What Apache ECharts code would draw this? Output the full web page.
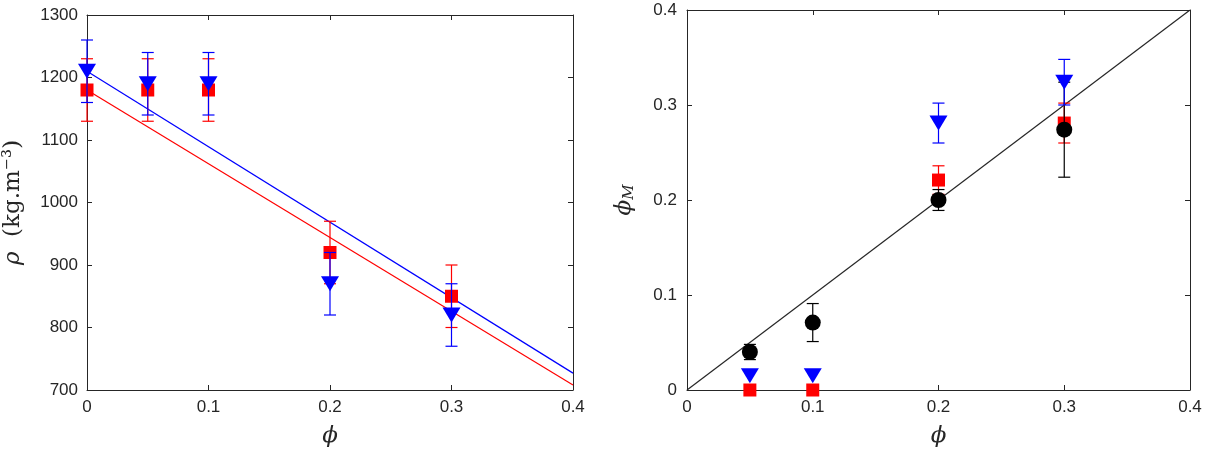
<!DOCTYPE html>
<html>
<head>
<meta charset="utf-8">
<script src="https://cdn.jsdelivr.net/npm/echarts@6/dist/echarts.min.js"></script>
<style>
  body { margin: 0; background: #fff; }
  #main { width: 1206px; height: 453px; }
</style>
</head>
<body>
<div id="main"></div>
<script>
// x positions (volume fraction phi)
var phiLeft = [0, 0.05, 0.1, 0.2, 0.3];
var phiRight = [0.05, 0.1, 0.2, 0.3];

// left panel: density, value and half error
var rhoRed = [1180, 1180, 1180, 920, 850];
var rhoRedErr = [50, 50, 50, 50, 50];
var rhoBlue = [1210, 1190, 1190, 870, 820];
var rhoBlueErr = [50, 50, 50, 50, 50];
// fitted lines (end points)
var fitRed = [[0, 1180], [0.4, 708]];
var fitBlue = [[0, 1210], [0.4, 727]];

// right panel: measured phi_M
var phiMBlack = [0.04, 0.071, 0.2, 0.274];
var phiMBlackErr = [0.008, 0.02, 0.011, 0.05];
var phiMRed = [0, 0, 0.221, 0.281];
var phiMRedErr = [0, 0, 0.015, 0.021];
var phiMBlue = [0.015, 0.015, 0.281, 0.324];
var phiMBlueErr = [0, 0, 0.021, 0.024];
var diagonal = [[0, 0], [0.4, 0.4]];

var axisColor = '#262626';

function pts(xs, ys) {
  return xs.map(function (x, i) { return [x, ys[i]]; });
}
function errs(xs, ys, es) {
  return xs.map(function (x, i) { return [x, ys[i] - es[i], ys[i] + es[i]]; });
}

function errRender(color) {
  return function (params, api) {
    var x = api.value(0), lo = api.value(1), hi = api.value(2);
    if (hi - lo <= 0) return null;
    var top = api.coord([x, hi]);
    var bot = api.coord([x, lo]);
    var w = 6;
    var st = { stroke: color, lineWidth: 1.2 };
    return {
      type: 'group',
      children: [
        { type: 'line', shape: { x1: top[0], y1: top[1], x2: bot[0], y2: bot[1] }, style: st },
        { type: 'line', shape: { x1: top[0] - w, y1: top[1], x2: top[0] + w, y2: top[1] }, style: st },
        { type: 'line', shape: { x1: bot[0] - w, y1: bot[1], x2: bot[0] + w, y2: bot[1] }, style: st }
      ]
    };
  };
}

function errSeries(idx, data, color, z) {
  return {
    type: 'custom', xAxisIndex: idx, yAxisIndex: idx,
    renderItem: errRender(color), data: data,
    encode: { x: 0, y: [1, 2] }, z: z, silent: true
  };
}

function markSeries(idx, data, color, symbol, size, rotate, z) {
  return {
    type: 'scatter', xAxisIndex: idx, yAxisIndex: idx,
    data: data, symbol: symbol, symbolSize: size, symbolRotate: rotate || 0,
    itemStyle: { color: color, opacity: 1 }, z: z, silent: true
  };
}

function lineSeries(idx, data, color) {
  return {
    type: 'line', xAxisIndex: idx, yAxisIndex: idx, data: data,
    showSymbol: false, lineStyle: { color: color, width: 1.2 }, z: 2, silent: true
  };
}

function plain(v) { return String(Math.round(v * 1000) / 1000); }

var tickLabel = { color: axisColor, fontFamily: 'Liberation Sans, Arial, sans-serif', fontSize: 17, formatter: plain };
var axisLine = { show: true, onZero: false, lineStyle: { color: axisColor, width: 1 } };
var axisTick = { show: true, inside: true, length: 5, lineStyle: { color: axisColor } };
var nameFont = { fontFamily: 'DejaVu Serif, Liberation Serif, serif', fontSize: 23, color: axisColor };

function mainX(idx) {
  return {
    gridIndex: idx, type: 'value', min: 0, max: 0.4, interval: 0.1,
    axisLine: axisLine, axisTick: axisTick, splitLine: { show: false },
    axisLabel: Object.assign({ margin: 9 }, tickLabel),
    name: 'ϕ', nameLocation: 'middle', nameGap: 35,
    nameTextStyle: Object.assign({ fontStyle: 'italic' }, nameFont)
  };
}
function boxX(idx) {
  return {
    gridIndex: idx, type: 'value', min: 0, max: 0.4, interval: 0.1, position: 'top',
    axisLine: axisLine, axisTick: axisTick, axisLabel: { show: false }, splitLine: { show: false }
  };
}
function boxY(idx, min, max, interval) {
  return {
    gridIndex: idx, type: 'value', min: min, max: max, interval: interval, position: 'right',
    axisLine: axisLine, axisTick: axisTick, axisLabel: { show: false }, splitLine: { show: false }
  };
}

var chart = echarts.init(document.getElementById('main'));
chart.setOption({
  backgroundColor: '#fff',
  animation: false,
  grid: [
    { left: 87, top: 15, width: 486, height: 377 },
    { left: 687, top: 10, width: 503, height: 380 }
  ],
  xAxis: [mainX(0), mainX(1), boxX(0), boxX(1)],
  yAxis: [
    {
      gridIndex: 0, type: 'value', min: 700, max: 1300, interval: 100,
      axisLine: axisLine, axisTick: axisTick, splitLine: { show: false },
      axisLabel: Object.assign({ margin: 9 }, tickLabel),
      name: '{i|ρ}  (kg.m⁻³)', nameLocation: 'middle', nameRotate: 90, nameGap: 62,
      nameTextStyle: Object.assign({ rich: { i: Object.assign({ fontStyle: 'italic' }, nameFont) } }, nameFont)
    },
    {
      gridIndex: 1, type: 'value', min: 0, max: 0.4, interval: 0.1,
      axisLine: axisLine, axisTick: axisTick, splitLine: { show: false },
      axisLabel: Object.assign({ margin: 10 }, tickLabel),
      name: '{i|ϕ}{s|M}', nameLocation: 'middle', nameRotate: 90, nameGap: 50,
      nameTextStyle: Object.assign({
        rich: {
          i: Object.assign({ fontStyle: 'italic' }, nameFont),
          s: { fontFamily: 'DejaVu Serif, serif', fontStyle: 'italic', fontSize: 15, color: axisColor, padding: [10, 0, 0, 0] }
        }
      }, nameFont)
    },
    boxY(0, 700, 1300, 100),
    boxY(1, 0, 0.4, 0.1)
  ],
  series: [
    lineSeries(0, fitRed, '#ff0000'),
    lineSeries(0, fitBlue, '#0000ff'),
    errSeries(0, errs(phiLeft, rhoRed, rhoRedErr), '#ff0000', 3),
    markSeries(0, pts(phiLeft, rhoRed), '#ff0000', 'rect', 13, 0, 4),
    errSeries(0, errs(phiLeft, rhoBlue, rhoBlueErr), '#0000ff', 5),
    markSeries(0, pts(phiLeft, rhoBlue), '#0000ff', 'triangle', [18, 15], 180, 6),

    lineSeries(1, diagonal, '#262626'),
    errSeries(1, errs(phiRight, phiMRed, phiMRedErr), '#ff0000', 3),
    markSeries(1, pts(phiRight, phiMRed), '#ff0000', 'rect', 13, 0, 4),
    errSeries(1, errs(phiRight, phiMBlack, phiMBlackErr), '#000000', 5),
    markSeries(1, pts(phiRight, phiMBlack), '#000000', 'circle', 16, 0, 6),
    errSeries(1, errs(phiRight, phiMBlue, phiMBlueErr), '#0000ff', 7),
    markSeries(1, pts(phiRight, phiMBlue), '#0000ff', 'triangle', [18, 15], 180, 8)
  ]
});
</script>
</body>
</html>
